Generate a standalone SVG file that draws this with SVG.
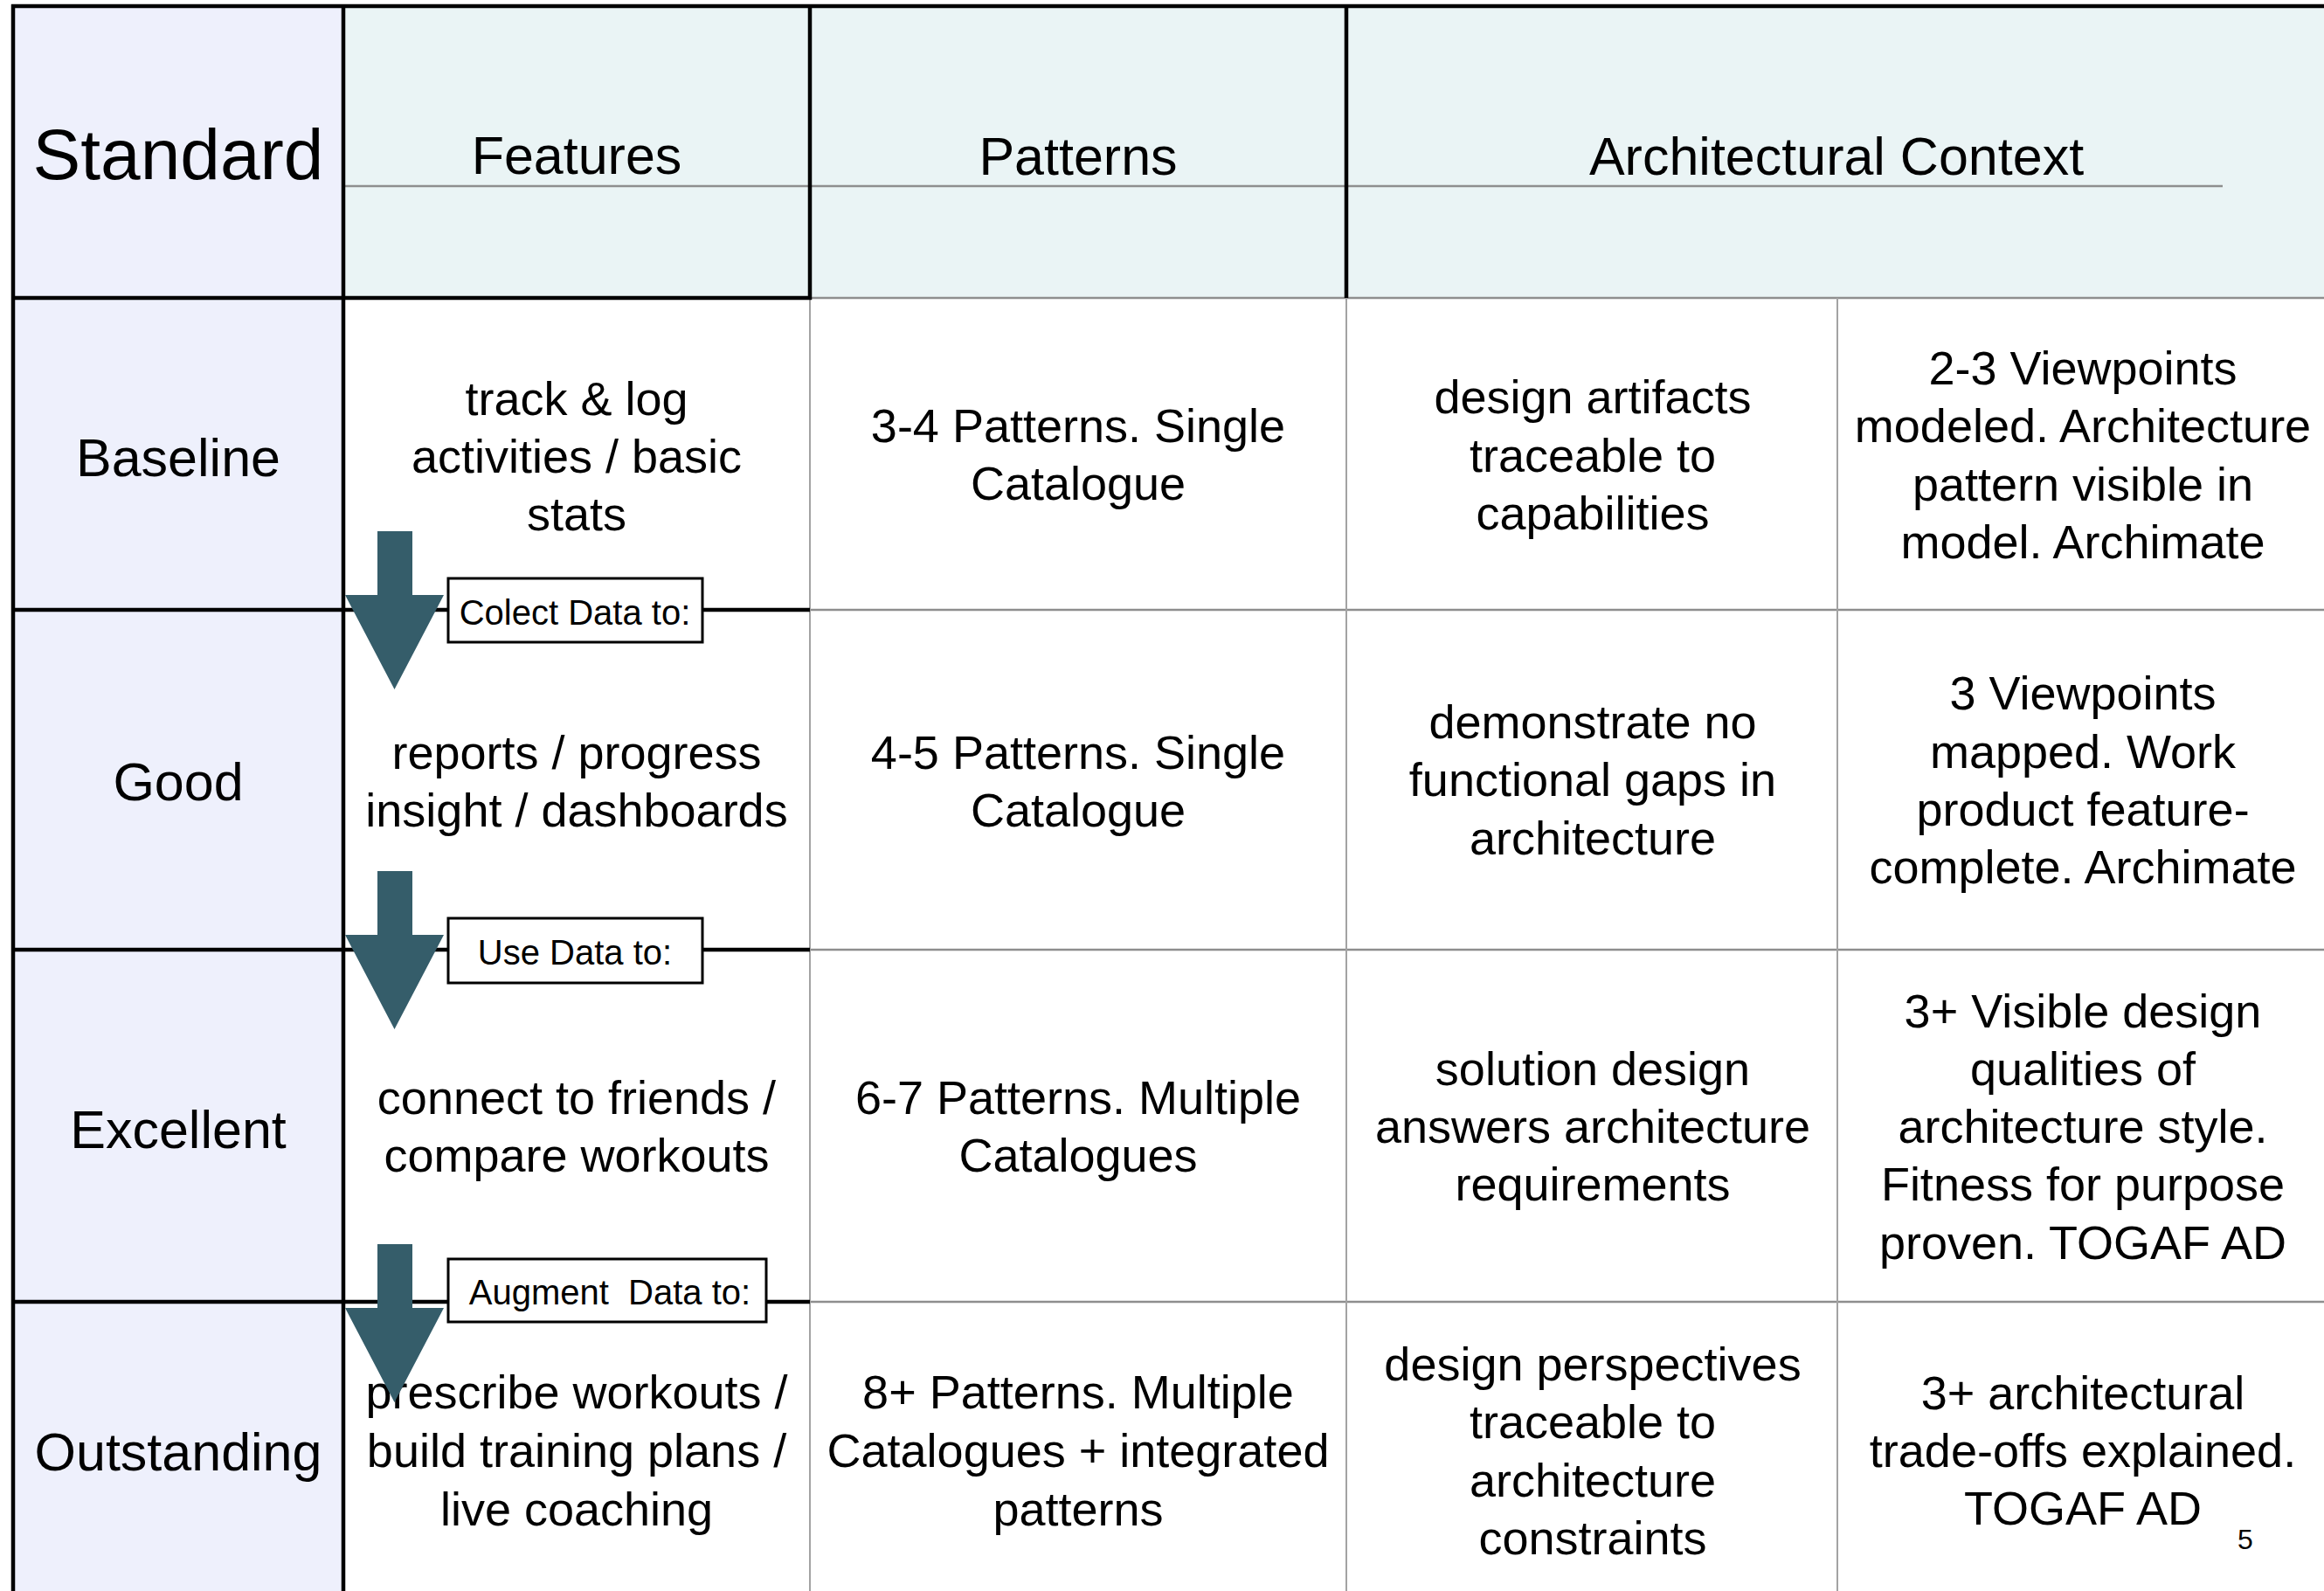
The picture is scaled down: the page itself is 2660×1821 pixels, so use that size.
<svg xmlns="http://www.w3.org/2000/svg" width="2660" height="1821" viewBox="0 0 2660 1821">
<style>
text { font-family: "Liberation Sans", Arial, Helvetica, sans-serif; fill: #000; text-anchor: middle; }
.c { font-size: 54px; }
.r { font-size: 61px; }
.h { font-size: 61px; }
.std { font-size: 82px; }
.lbl { font-size: 40px; white-space: pre; }
.pg { font-size: 32px; }
.gv { stroke: #a3a3a3; stroke-width: 2; fill: none; }
.gh { stroke: #8e8e8e; stroke-width: 2.5; fill: none; }
.bk { stroke: #000; stroke-width: 4.5; fill: none; }
.box { fill: #fff; stroke: #000; stroke-width: 3; }
.arrow { fill: #355d6a; }
</style>
<defs>
<path id="arr" d="M432,0 H472 V73 H508 L451.5,181 L395,73 H432 Z"/>
</defs>
<g id="background">
<rect x="0" y="0" width="2660" height="1821" fill="#ffffff"/>
<rect x="15" y="7" width="378" height="1814" fill="#eef0fc"/>
<rect x="393" y="7" width="2267" height="334" fill="#eaf4f5"/>
</g>
<g id="grid">
<line class="gh" x1="393" y1="213" x2="2544" y2="213" stroke="#a9adad"/>
<line class="gh" x1="927" y1="341" x2="2660" y2="341"/>
<line class="gh" x1="927" y1="698" x2="2660" y2="698"/>
<line class="gh" x1="927" y1="1087" x2="2660" y2="1087"/>
<line class="gh" x1="927" y1="1490" x2="2660" y2="1490"/>
<line class="gv" x1="927" y1="341" x2="927" y2="1821"/>
<line class="gv" x1="1541" y1="341" x2="1541" y2="1821"/>
<line class="gv" x1="2103" y1="341" x2="2103" y2="1821"/>
<line class="bk" x1="13" y1="7" x2="2660" y2="7"/>
<line class="bk" x1="15" y1="5" x2="15" y2="1821"/>
<line class="bk" x1="393" y1="5" x2="393" y2="1821"/>
<line class="bk" x1="13" y1="341" x2="929" y2="341" stroke-width="5"/>
<line class="bk" x1="927" y1="5" x2="927" y2="343" stroke-width="5"/>
<line class="bk" x1="1541" y1="5" x2="1541" y2="341" stroke-width="3.5"/>
<line class="bk" x1="13" y1="698" x2="927" y2="698"/>
<line class="bk" x1="13" y1="1087" x2="927" y2="1087"/>
<line class="bk" x1="13" y1="1490" x2="927" y2="1490"/>
</g>
<g id="header">
<text class="std" x="204" y="205">Standard</text>
<text class="h" x="660" y="199">Features</text>
<text class="h" x="1234" y="200">Patterns</text>
<text class="h" x="2102" y="200">Architectural Context</text>
</g>
<g id="row-baseline">
<text class="r" x="204" y="545">Baseline</text>
<text class="c" x="660" y="475">track &amp; log</text>
<text class="c" x="660" y="541">activities / basic</text>
<text class="c" x="660" y="607">stats</text>
<text class="c" x="1234" y="506">3-4 Patterns. Single</text>
<text class="c" x="1234" y="572">Catalogue</text>
<text class="c" x="1823" y="473">design artifacts</text>
<text class="c" x="1823" y="540">traceable to</text>
<text class="c" x="1823" y="606">capabilities</text>
<text class="c" x="2384" y="440">2-3 Viewpoints</text>
<text class="c" x="2384" y="506">modeled. Architecture</text>
<text class="c" x="2384" y="573">pattern visible in</text>
<text class="c" x="2384" y="639">model. Archimate</text>
</g>
<g id="row-good">
<text class="r" x="204" y="916">Good</text>
<text class="c" x="660" y="880">reports / progress</text>
<text class="c" x="660" y="946">insight / dashboards</text>
<text class="c" x="1234" y="880">4-5 Patterns. Single</text>
<text class="c" x="1234" y="946">Catalogue</text>
<text class="c" x="1823" y="845">demonstrate no</text>
<text class="c" x="1823" y="911">functional gaps in</text>
<text class="c" x="1823" y="978">architecture</text>
<text class="c" x="2384" y="812">3 Viewpoints</text>
<text class="c" x="2384" y="879">mapped. Work</text>
<text class="c" x="2384" y="945">product feature-</text>
<text class="c" x="2384" y="1011">complete. Archimate</text>
</g>
<g id="row-excellent">
<text class="r" x="204" y="1314">Excellent</text>
<text class="c" x="660" y="1275">connect to friends /</text>
<text class="c" x="660" y="1341">compare workouts</text>
<text class="c" x="1234" y="1275">6-7 Patterns. Multiple</text>
<text class="c" x="1234" y="1341">Catalogues</text>
<text class="c" x="1823" y="1242">solution design</text>
<text class="c" x="1823" y="1308">answers architecture</text>
<text class="c" x="1823" y="1374">requirements</text>
<text class="c" x="2384" y="1176">3+ Visible design</text>
<text class="c" x="2384" y="1242">qualities of</text>
<text class="c" x="2384" y="1308">architecture style.</text>
<text class="c" x="2384" y="1374">Fitness for purpose</text>
<text class="c" x="2384" y="1441">proven. TOGAF AD</text>
</g>
<g id="row-outstanding">
<text class="r" x="204" y="1683">Outstanding</text>
<text class="c" x="660" y="1612">prescribe workouts /</text>
<text class="c" x="660" y="1679">build training plans /</text>
<text class="c" x="660" y="1746">live coaching</text>
<text class="c" x="1234" y="1612">8+ Patterns. Multiple</text>
<text class="c" x="1234" y="1679">Catalogues + integrated</text>
<text class="c" x="1234" y="1746">patterns</text>
<text class="c" x="1823" y="1580">design perspectives</text>
<text class="c" x="1823" y="1646">traceable to</text>
<text class="c" x="1823" y="1713">architecture</text>
<text class="c" x="1823" y="1779">constraints</text>
<text class="c" x="2384" y="1613">3+ architectural</text>
<text class="c" x="2384" y="1679">trade-offs explained.</text>
<text class="c" x="2384" y="1745">TOGAF AD</text>
<text class="pg" x="2570" y="1773">5</text>
</g>
<g id="label-collect">
<rect class="box" x="513" y="662" width="291" height="73"/>
<text class="lbl" x="658" y="715">Colect Data to:</text>
</g>
<g id="label-use">
<rect class="box" x="513" y="1051" width="291" height="74"/>
<text class="lbl" x="658" y="1104">Use Data to:</text>
</g>
<g id="label-augment">
<rect class="box" x="513" y="1441" width="364" height="72"/>
<text class="lbl" x="698" y="1493">Augment  Data to:</text>
</g>
<g id="connectors">
<use href="#arr" class="arrow" transform="translate(0,608)"/>
<use href="#arr" class="arrow" transform="translate(0,997)"/>
<use href="#arr" class="arrow" transform="translate(0,1424)"/>
</g>
</svg>
